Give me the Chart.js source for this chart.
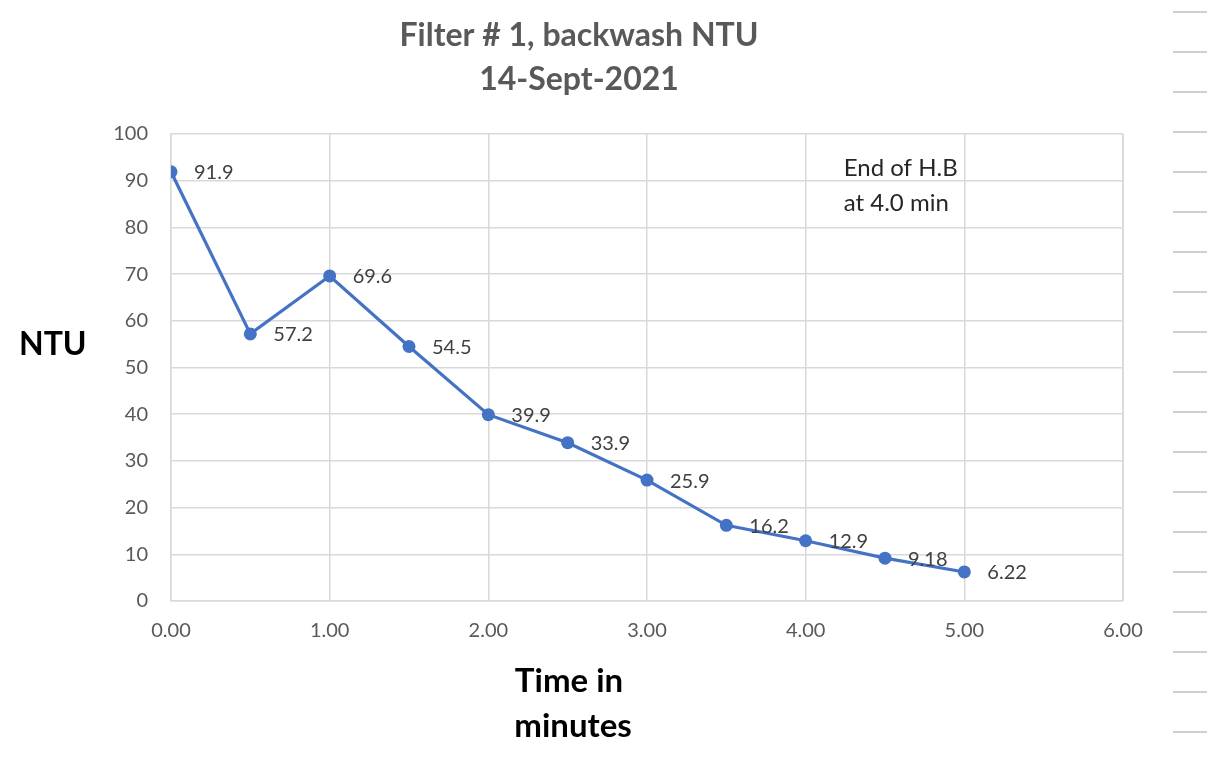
<!DOCTYPE html>
<html>
<head>
<meta charset="utf-8">
<script src="https://cdn.jsdelivr.net/npm/chart.js@4/dist/chart.umd.min.js"></script>
<style>
  html, body { margin: 0; padding: 0; background: #ffffff; }
  #wrap { position: relative; width: 1207px; height: 771px; }
  #dashes {
    position: absolute; left: 1173px; top: 0; width: 34px; height: 771px;
    background: repeating-linear-gradient(to bottom, transparent 0px, transparent 11px, #d0d0d0 11px, #d0d0d0 13px, transparent 13px, transparent 40px);
  }
  canvas { position: absolute; left: 0; top: 0; }
</style>
</head>
<body>
<div id="wrap">
  <div id="dashes"></div>
  <canvas id="c" width="1207" height="771"></canvas>
</div>
<script>
const titleLines = ["Filter # 1, backwash NTU", "14-Sept-2021"];
const yAxisTitle = "NTU";
const xAxisTitleLines = ["Time in", "minutes"];
const noteLines = ["End of H.B", "at 4.0 min"];
const timeMinutes = [0, 0.5, 1, 1.5, 2, 2.5, 3, 3.5, 4, 4.5, 5];
const ntuValues = [91.9, 57.2, 69.6, 54.5, 39.9, 33.9, 25.9, 16.2, 12.9, 9.18, 6.22];
const ntuLabels = ["91.9", "57.2", "69.6", "54.5", "39.9", "33.9", "25.9", "16.2", "12.9", "9.18", "6.22"];

const FONT = "Lato, 'Open Sans', sans-serif";

const textPlugin = {
  id: 'textPlugin',
  afterDatasetsDraw(chart) {
    const ctx = chart.ctx;
    const meta = chart.getDatasetMeta(0);
    ctx.save();
    ctx.textBaseline = "middle";
    // data labels
    ctx.font = "20px " + FONT;
    ctx.fillStyle = "#404040";
    ctx.textAlign = "left";
    meta.data.forEach((pt, i) => {
      ctx.fillText(ntuLabels[i], pt.x + 23, pt.y + 1);
    });
    const xs = chart.scales.x, ys = chart.scales.y;
    // title
    ctx.font = "bold 32px " + FONT;
    ctx.fillStyle = "#595959";
    ctx.textAlign = "center";
    ctx.fillText(titleLines[0], 579, 36);
    ctx.fillText(titleLines[1], 579, 80);
    // y axis title
    ctx.font = "bold 32px " + FONT;
    ctx.fillStyle = "#000000";
    ctx.textAlign = "left";
    ctx.fillText(yAxisTitle, 19, 345);
    // x axis title
    ctx.font = "bold 33px " + FONT;
    ctx.textAlign = "center";
    ctx.fillText(xAxisTitleLines[0], 569, 681);
    ctx.fillText(xAxisTitleLines[1], 573, 726);
    // note
    ctx.font = "24px " + FONT;
    ctx.fillStyle = "#262626";
    ctx.textAlign = "left";
    ctx.fillText(noteLines[0], xs.getPixelForValue(4.24), ys.getPixelForValue(92.7));
    ctx.fillText(noteLines[1], xs.getPixelForValue(4.24), ys.getPixelForValue(85.1));
    ctx.restore();
  }
};

new Chart(document.getElementById('c'), {
  type: 'scatter',
  data: {
    datasets: [{
      data: timeMinutes.map((t, i) => ({ x: t, y: ntuValues[i] })),
      showLine: true,
      borderColor: '#4472C4',
      backgroundColor: '#4472C4',
      borderWidth: 3.2,
      pointRadius: 6.5,
      pointHoverRadius: 6.5,
      pointBorderWidth: 0,
      tension: 0
    }]
  },
  options: {
    responsive: false,
    animation: false,
    events: [],
    layout: { padding: { left: 0, right: 84, top: 134, bottom: 0 } },
    plugins: { legend: { display: false }, tooltip: { enabled: false }, title: { display: false } },
    scales: {
      x: {
        type: 'linear', min: 0, max: 6,
        afterFit(s) { s.height = 170; },
        grid: { color: '#d9d9d9', lineWidth: 1.5, drawTicks: false },
        border: { display: true, color: '#d9d9d9', width: 1.5 },
        ticks: { stepSize: 1, padding: 18, color: '#595959', font: { family: FONT, size: 20 },
                 callback: v => Number(v).toFixed(2) }
      },
      y: {
        type: 'linear', min: 0, max: 100,
        afterFit(s) { s.width = 171; },
        grid: { color: '#d9d9d9', lineWidth: 1.5, drawTicks: false },
        border: { display: true, color: '#d9d9d9', width: 1.5 },
        ticks: { stepSize: 10, padding: 23, color: '#595959', font: { family: FONT, size: 20 } }
      }
    }
  },
  plugins: [textPlugin, {
    id: 'rightBorder',
    beforeDatasetsDraw(chart) {
      const a = chart.chartArea, ctx = chart.ctx;
      ctx.save();
      ctx.strokeStyle = '#d9d9d9';
      ctx.lineWidth = 1.5;
      ctx.beginPath();
      ctx.moveTo(a.right, a.top);
      ctx.lineTo(a.right, a.bottom);
      ctx.stroke();
      ctx.restore();
    }
  }]
});
</script>
</body>
</html>
